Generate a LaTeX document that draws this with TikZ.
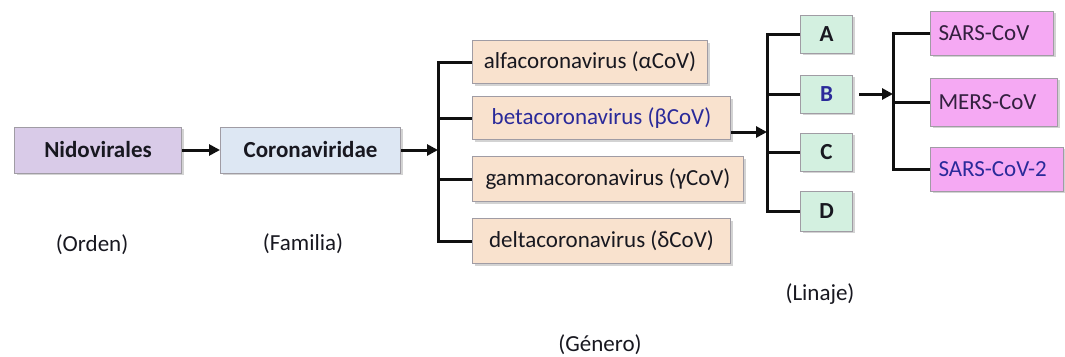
\documentclass[tikz,border=0pt]{standalone}
\usepackage{fontspec}
\setmainfont{Carlito}
\usetikzlibrary{arrows.meta,shadows,calc}

\definecolor{nidofill}{HTML}{D9CBE8}
\definecolor{corofill}{HTML}{DDE7F3}
\definecolor{genfill}{HTML}{F9E2CE}
\definecolor{linfill}{HTML}{D3F0E0}
\definecolor{spefill}{HTML}{F5A9F3}
\definecolor{boxline}{HTML}{A09CA4}
\definecolor{linkcol}{HTML}{101010}
\definecolor{darktext}{HTML}{181820}
\definecolor{bluetext}{HTML}{2A2A9A}
\definecolor{purpletext}{HTML}{33203F}

\begin{document}
\begin{tikzpicture}[x=1pt,y=-1pt,
    box/.style={draw=boxline, line width=1pt, anchor=west, inner sep=0pt,
        text=darktext, font=\fontsize{23}{27}\selectfont,
        drop shadow={shadow xshift=2pt, shadow yshift=-2pt, opacity=0.35, fill=gray}},
    link/.style={line width=3pt, draw=linkcol},
    arr/.style={link, -{Triangle[length=11pt,width=11pt]}},
    rank/.style={text=darktext, font=\fontsize{23}{27}\selectfont}]

    \useasboundingbox (0,0) rectangle (1065,356);

    % Bracket positions
    \def\gx{438}  % genus bracket
    \def\lx{767}  % lineage bracket
    \def\sx{893}  % species bracket

    % Order and family
    \node[box, fill=nidofill, minimum width=167pt, minimum height=46pt, font=\fontsize{23}{27}\selectfont\bfseries]
        (nido) at (14,150) {Nidovirales};
    \node[box, fill=corofill, minimum width=180pt, minimum height=46pt, font=\fontsize{23}{27}\selectfont\bfseries]
        (corona) at (220,150) {Coronaviridae};

    % Genera
    \node[box, fill=genfill, minimum width=235pt, minimum height=43pt] (alfa) at (472,62) {alfacoronavirus (αCoV)};
    \node[box, fill=genfill, minimum width=258pt, minimum height=43pt, text=bluetext] (beta) at (472,118) {betacoronavirus (βCoV)};
    \node[box, fill=genfill, minimum width=271pt, minimum height=45pt] (gamma) at (472,179) {gammacoronavirus (γCoV)};
    \node[box, fill=genfill, minimum width=258pt, minimum height=45pt] (delta) at (472,241) {deltacoronavirus (δCoV)};

    % Lineages
    \node[box, fill=linfill, minimum width=52pt, minimum height=38pt, font=\fontsize{23}{27}\selectfont\bfseries] (linA) at (800,34) {A};
    \node[box, fill=linfill, minimum width=52pt, minimum height=38pt, font=\fontsize{23}{27}\selectfont\bfseries, text=bluetext] (linB) at (800,94) {B};
    \node[box, fill=linfill, minimum width=52pt, minimum height=38pt, font=\fontsize{23}{27}\selectfont\bfseries] (linC) at (800,152) {C};
    \node[box, fill=linfill, minimum width=52pt, minimum height=40pt, font=\fontsize{23}{27}\selectfont\bfseries] (linD) at (800,211) {D};

    % Species
    \node[box, fill=spefill, text width=107pt, align=left, inner xsep=8pt, minimum height=44pt, text=purpletext] (sars) at (930,33) {SARS-CoV};
    \node[box, fill=spefill, text width=111pt, align=left, inner xsep=8pt, minimum height=48pt, text=purpletext] (mers) at (930,102) {MERS-CoV};
    \node[box, fill=spefill, text width=117pt, align=left, inner xsep=8pt, minimum height=44pt, text=bluetext] (sars2) at (930,169) {SARS-CoV-2};

    % Rank labels
    \node[rank] (orden) at (92,245) {(Orden)};
    \node[rank] (familia) at (303,244) {(Familia)};
    \node[rank] (linaje) at (820,294) {(Linaje)};
    \node[rank] (genero) at (600,345) {(Género)};

    % Bracket anchors
    \coordinate (gtop) at (\gx,0);
    \coordinate (ltop) at (\lx,0);
    \coordinate (stop) at (\sx,0);
    \coordinate (betaout) at ([yshift=-14pt]beta.east);
    \coordinate (bout) at ([xshift=6pt]linB.east);

    % Draw arrows
    \draw[arr] (nido) -- (corona);
    \draw[arr] (corona.east) -- (gtop |- corona.east);
    \draw[arr] (betaout) -- (ltop |- betaout);
    \draw[arr] (bout) -- (stop |- bout);

    % Draw brackets
    \draw[link] (alfa.west) -- (gtop |- alfa.west) -- (gtop |- delta.west) -- (delta.west);
    \draw[link] (gtop |- beta.west) -- (beta.west);
    \draw[link] (gtop |- gamma.west) -- (gamma.west);

    \draw[link] (linA.west) -- (ltop |- linA.west) -- (ltop |- linD.west) -- (linD.west);
    \draw[link] (ltop |- linB.west) -- (linB.west);
    \draw[link] (ltop |- linC.west) -- (linC.west);

    \draw[link] (sars.west) -- (stop |- sars.west) -- (stop |- sars2.west) -- (sars2.west);
    \draw[link] (stop |- mers.west) -- (mers.west);
\end{tikzpicture}
\end{document}
